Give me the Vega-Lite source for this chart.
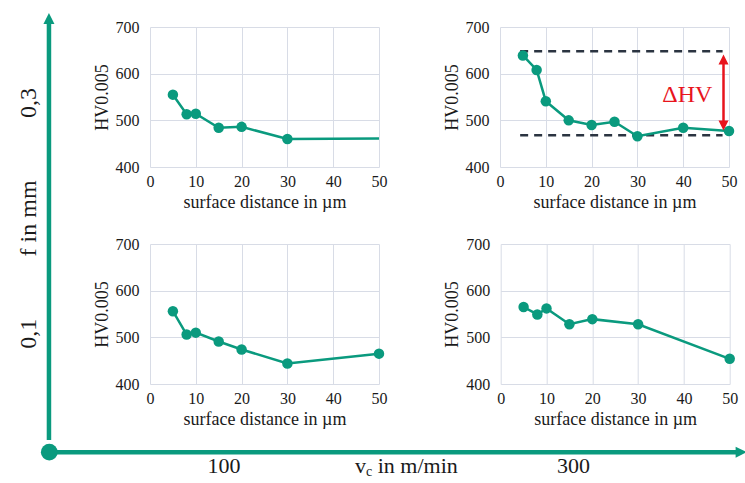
{
  "$schema": "https://vega.github.io/schema/vega-lite/v6.json",
  "background": "white",
  "padding": 0,
  "datasets": {
    "hv": [
      {"vc": 100, "f": 0.3, "d": 5, "hv": 555}, {"vc": 100, "f": 0.3, "d": 8, "hv": 513}, {"vc": 100, "f": 0.3, "d": 10, "hv": 514},
      {"vc": 100, "f": 0.3, "d": 15, "hv": 484}, {"vc": 100, "f": 0.3, "d": 20, "hv": 486}, {"vc": 100, "f": 0.3, "d": 30, "hv": 460},
      {"vc": 100, "f": 0.3, "d": 50, "hv": 461},
      {"vc": 300, "f": 0.3, "d": 5, "hv": 639}, {"vc": 300, "f": 0.3, "d": 8, "hv": 608}, {"vc": 300, "f": 0.3, "d": 10, "hv": 541},
      {"vc": 300, "f": 0.3, "d": 15, "hv": 500}, {"vc": 300, "f": 0.3, "d": 20, "hv": 490}, {"vc": 300, "f": 0.3, "d": 25, "hv": 497},
      {"vc": 300, "f": 0.3, "d": 30, "hv": 466}, {"vc": 300, "f": 0.3, "d": 40, "hv": 484}, {"vc": 300, "f": 0.3, "d": 50, "hv": 477},
      {"vc": 100, "f": 0.1, "d": 5, "hv": 556}, {"vc": 100, "f": 0.1, "d": 8, "hv": 506}, {"vc": 100, "f": 0.1, "d": 10, "hv": 510},
      {"vc": 100, "f": 0.1, "d": 15, "hv": 491}, {"vc": 100, "f": 0.1, "d": 20, "hv": 474}, {"vc": 100, "f": 0.1, "d": 30, "hv": 444},
      {"vc": 100, "f": 0.1, "d": 50, "hv": 465},
      {"vc": 300, "f": 0.1, "d": 5, "hv": 565}, {"vc": 300, "f": 0.1, "d": 8, "hv": 549}, {"vc": 300, "f": 0.1, "d": 10, "hv": 562},
      {"vc": 300, "f": 0.1, "d": 15, "hv": 528}, {"vc": 300, "f": 0.1, "d": 20, "hv": 539}, {"vc": 300, "f": 0.1, "d": 30, "hv": 528},
      {"vc": 300, "f": 0.1, "d": 50, "hv": 454}
    ],
    "ann": [
      {"kind": "dash", "d": 4.4, "d2": 48.6, "hv": 648},
      {"kind": "dash", "d": 4.4, "d2": 48.6, "hv": 468},
      {"kind": "arrow", "d": 48.8, "hv": 630, "hv2": 489},
      {"kind": "headUp", "d": 48.8, "hv": 630.3},
      {"kind": "headDown", "d": 48.8, "hv": 488.7},
      {"kind": "label", "d": 40.9, "hv": 554, "text": "ΔHV"}
    ],
    "fAxis": [
      {"kind": "axis", "vc": 0, "f": 0.008, "f2": 0.3733},
      {"kind": "head", "vc": 0, "f": 0.3733},
      {"kind": "label", "vc": -12.8, "f": 0.3, "text": "0,3"},
      {"kind": "label", "vc": -12.8, "f": 0.2, "text": "f in mm"},
      {"kind": "label", "vc": -12.8, "f": 0.1, "text": "0,1"}
    ],
    "vAxis": [
      {"kind": "axis", "vc": 0, "vc2": 396, "f": 0},
      {"kind": "head", "vc": 396, "f": 0},
      {"kind": "origin", "vc": 0, "f": 0},
      {"kind": "label", "vc": 100, "f": -0.0153, "text": "100"},
      {"kind": "label", "vc": 300, "f": -0.0153, "text": "300"},
      {"kind": "title", "vc": 200, "f": -0.0153}
    ]
  },
  "spacing": 0,
  "vconcat": [
    {
      "spacing": 0,
      "hconcat": [
        {
          "width": 92.3,
          "height": 440,
          "data": {"name": "fAxis"},
          "encoding": {
            "x": {"field": "vc", "type": "quantitative", "scale": {"domain": [-28.22, 24.61]}, "axis": null},
            "y": {"field": "f", "type": "quantitative", "scale": {"domain": [0.008, 0.3893]}, "axis": null}
          },
          "layer": [
            {
              "transform": [{"filter": "datum.kind === 'axis'"}],
              "mark": {"type": "bar", "orient": "vertical", "color": "#0A9A7E", "size": 4.5},
              "encoding": {"y2": {"field": "f2"}}
            },
            {
              "transform": [{"filter": "datum.kind === 'head'"}],
              "mark": {"type": "point", "shape": "M0,-1L1,1L-1,1Z", "filled": true, "size": 121, "color": "#0A9A7E", "opacity": 1},
              "encoding": {}
            },
            {
              "transform": [{"filter": "datum.kind === 'label'"}],
              "mark": {"type": "text", "angle": 270, "fontSize": 24, "font": "Liberation Serif", "color": "#1a1a1a"},
              "encoding": {"text": {"field": "text"}}
            }
          ]
        },
        {
          "spacing": 0,
          "vconcat": [
            {"width": 1, "height": 18.8, "data": {"values": []}, "mark": "point"},
            {
              "spacing": 25,
              "vconcat": [
                {
                  "spacing": 121,
                  "bounds": "flush",
                  "hconcat": [
                    {
                      "width": 229, "height": 140,
                      "data": {"name": "hv"},
                      "transform": [{"filter": "datum.vc === 100 && datum.f === 0.3"}],
                      "encoding": {
                        "x": {"field": "d", "type": "quantitative", "title": "surface distance in µm", "scale": {"domain": [0, 50]}, "axis": {"values": [0, 10, 20, 30, 40, 50]}},
                        "y": {"field": "hv", "type": "quantitative", "title": "HV0.005", "scale": {"domain": [400, 700]}, "axis": {"values": [400, 500, 600, 700]}}
                      },
                      "layer": [
                        {"mark": {"type": "line", "color": "#0A9A7E", "strokeWidth": 2.5}, "encoding": {}},
                        {"transform": [{"filter": "datum.d < 50"}], "mark": {"type": "circle", "color": "#0A9A7E", "size": 110, "opacity": 1}, "encoding": {}}
                      ]
                    },
                    {
                      "width": 229, "height": 140,
                      "encoding": {
                        "x": {"field": "d", "type": "quantitative", "title": "surface distance in µm", "scale": {"domain": [0, 50]}, "axis": {"values": [0, 10, 20, 30, 40, 50]}},
                        "y": {"field": "hv", "type": "quantitative", "title": "HV0.005", "scale": {"domain": [400, 700]}, "axis": {"values": [400, 500, 600, 700]}}
                      },
                      "layer": [
                        {
                          "data": {"name": "ann"},
                          "transform": [{"filter": "datum.kind === 'dash'"}],
                          "mark": {"type": "rule", "color": "#2B3441", "strokeWidth": 2.5, "strokeDash": [8, 6]},
                          "encoding": {"x2": {"field": "d2"}}
                        },
                        {
                          "data": {"name": "hv"},
                          "transform": [{"filter": "datum.vc === 300 && datum.f === 0.3"}],
                          "mark": {"type": "line", "color": "#0A9A7E", "strokeWidth": 2.5},
                          "encoding": {}
                        },
                        {
                          "data": {"name": "hv"},
                          "transform": [{"filter": "datum.vc === 300 && datum.f === 0.3"}],
                          "mark": {"type": "circle", "color": "#0A9A7E", "size": 110, "opacity": 1},
                          "encoding": {}
                        },
                        {
                          "data": {"name": "ann"},
                          "transform": [{"filter": "datum.kind === 'arrow'"}],
                          "mark": {"type": "rule", "color": "#E8141C", "strokeWidth": 2.5},
                          "encoding": {"y2": {"field": "hv2"}}
                        },
                        {
                          "data": {"name": "ann"},
                          "transform": [{"filter": "datum.kind === 'headUp'"}],
                          "mark": {"type": "point", "shape": "M0,-1L1,1L-1,1Z", "filled": true, "size": 100, "color": "#E8141C", "opacity": 1},
                          "encoding": {}
                        },
                        {
                          "data": {"name": "ann"},
                          "transform": [{"filter": "datum.kind === 'headDown'"}],
                          "mark": {"type": "point", "shape": "M0,1L1,-1L-1,-1Z", "filled": true, "size": 100, "color": "#E8141C", "opacity": 1},
                          "encoding": {}
                        },
                        {
                          "data": {"name": "ann"},
                          "transform": [{"filter": "datum.kind === 'label'"}],
                          "mark": {"type": "text", "fontSize": 24, "font": "Liberation Serif", "color": "#E8141C"},
                          "encoding": {"text": {"field": "text"}}
                        }
                      ]
                    }
                  ]
                },
                {
                  "spacing": 121.7,
                  "bounds": "flush",
                  "hconcat": [
                    {
                      "width": 229, "height": 140,
                      "data": {"name": "hv"},
                      "transform": [{"filter": "datum.vc === 100 && datum.f === 0.1"}],
                      "encoding": {
                        "x": {"field": "d", "type": "quantitative", "title": "surface distance in µm", "scale": {"domain": [0, 50]}, "axis": {"values": [0, 10, 20, 30, 40, 50]}},
                        "y": {"field": "hv", "type": "quantitative", "title": "HV0.005", "scale": {"domain": [400, 700]}, "axis": {"values": [400, 500, 600, 700]}}
                      },
                      "layer": [
                        {"mark": {"type": "line", "color": "#0A9A7E", "strokeWidth": 2.5}, "encoding": {}},
                        {"mark": {"type": "circle", "color": "#0A9A7E", "size": 110, "opacity": 1}, "encoding": {}}
                      ]
                    },
                    {
                      "width": 229, "height": 140,
                      "data": {"name": "hv"},
                      "transform": [{"filter": "datum.vc === 300 && datum.f === 0.1"}],
                      "encoding": {
                        "x": {"field": "d", "type": "quantitative", "title": "surface distance in µm", "scale": {"domain": [0, 50]}, "axis": {"values": [0, 10, 20, 30, 40, 50]}},
                        "y": {"field": "hv", "type": "quantitative", "title": "HV0.005", "scale": {"domain": [400, 700]}, "axis": {"values": [400, 500, 600, 700]}}
                      },
                      "layer": [
                        {"mark": {"type": "line", "color": "#0A9A7E", "strokeWidth": 2.5}, "encoding": {}},
                        {"mark": {"type": "circle", "color": "#0A9A7E", "size": 110, "opacity": 1}, "encoding": {}}
                      ]
                    }
                  ]
                }
              ]
            }
          ]
        }
      ]
    },
    {
      "width": 745,
      "height": 43,
      "data": {"name": "vAxis"},
      "encoding": {
        "x": {"field": "vc", "type": "quantitative", "scale": {"domain": [-28.22, 398.23]}, "axis": null},
        "y": {"field": "f", "type": "quantitative", "scale": {"domain": [-0.0292, 0.00806]}, "axis": null}
      },
      "layer": [
        {
          "transform": [{"filter": "datum.kind === 'axis'"}],
          "mark": {"type": "bar", "orient": "horizontal", "color": "#0A9A7E", "size": 4.5},
          "encoding": {"x2": {"field": "vc2"}}
        },
        {
          "transform": [{"filter": "datum.kind === 'head'"}],
          "mark": {"type": "point", "shape": "M1,0L-1,1L-1,-1Z", "filled": true, "size": 121, "color": "#0A9A7E", "opacity": 1, "clip": true},
          "encoding": {}
        },
        {
          "transform": [{"filter": "datum.kind === 'origin'"}],
          "mark": {"type": "circle", "size": 283, "color": "#0A9A7E", "opacity": 1},
          "encoding": {}
        },
        {
          "transform": [{"filter": "datum.kind === 'label'"}],
          "mark": {"type": "text", "fontSize": 22, "font": "Liberation Serif", "color": "#1a1a1a"},
          "encoding": {"text": {"field": "text"}}
        },
        {
          "transform": [{"filter": "datum.kind === 'title'"}],
          "mark": {"type": "text", "text": "v", "align": "left", "dx": -43.7, "fontSize": 22, "font": "Liberation Serif", "color": "#1a1a1a"},
          "encoding": {}
        },
        {
          "transform": [{"filter": "datum.kind === 'title'"}],
          "mark": {"type": "text", "text": "c", "align": "left", "dx": -32.7, "dy": 6, "fontSize": 14, "font": "Liberation Serif", "color": "#1a1a1a"},
          "encoding": {}
        },
        {
          "transform": [{"filter": "datum.kind === 'title'"}],
          "mark": {"type": "text", "text": "in m/min", "align": "left", "dx": -21, "fontSize": 22, "font": "Liberation Serif", "color": "#1a1a1a"},
          "encoding": {}
        }
      ]
    }
  ],
  "config": {
    "font": "Liberation Serif",
    "view": {"stroke": null},
    "axis": {
      "labelFont": "Liberation Serif", "titleFont": "Liberation Serif",
      "labelFontSize": 16, "titleFontSize": 18, "titleFontWeight": "normal",
      "labelColor": "#1a1a1a", "titleColor": "#1a1a1a",
      "gridColor": "#D8DCE6", "gridWidth": 1,
      "domain": false, "ticks": false, "tickSize": 0
    },
    "axisX": {"labelPadding": 6, "titlePadding": 4, "labelFlush": false, "titleFont": "Liberation Serif", "labelFont": "Liberation Serif"},
    "axisY": {"labelPadding": 11, "titlePadding": 4, "titleFont": "Liberation Serif", "labelFont": "Liberation Serif"}
  }
}
